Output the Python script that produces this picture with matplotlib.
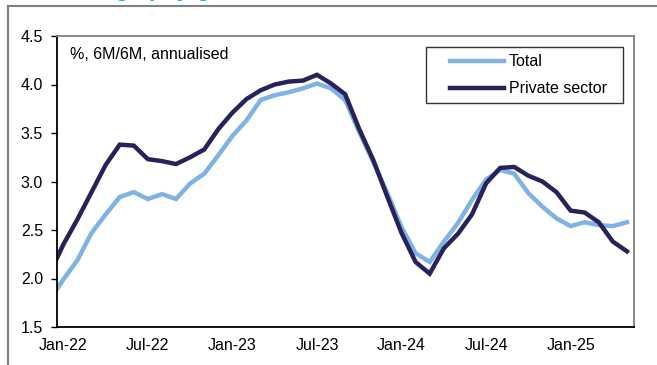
import matplotlib
matplotlib.use("Agg")
import matplotlib.pyplot as plt
from matplotlib.lines import Line2D
from matplotlib.legend_handler import HandlerLine2D

plt.rcParams['font.family'] = ['Liberation Sans', 'DejaVu Sans']

# monthly, Dec-21 .. May-25 (Dec-21 sits just left of the axis and is clipped)
months = ['Dec-21',
          'Jan-22', 'Feb-22', 'Mar-22', 'Apr-22', 'May-22', 'Jun-22', 'Jul-22', 'Aug-22', 'Sep-22', 'Oct-22', 'Nov-22', 'Dec-22',
          'Jan-23', 'Feb-23', 'Mar-23', 'Apr-23', 'May-23', 'Jun-23', 'Jul-23', 'Aug-23', 'Sep-23', 'Oct-23', 'Nov-23', 'Dec-23',
          'Jan-24', 'Feb-24', 'Mar-24', 'Apr-24', 'May-24', 'Jun-24', 'Jul-24', 'Aug-24', 'Sep-24', 'Oct-24', 'Nov-24', 'Dec-24',
          'Jan-25', 'Feb-25', 'Mar-25', 'Apr-25', 'May-25']

total = [1.77,
         1.99, 2.19, 2.47, 2.66, 2.84, 2.89, 2.82, 2.87, 2.82, 2.98, 3.08, 3.27,
         3.47, 3.63, 3.84, 3.89, 3.92, 3.96, 4.01, 3.96, 3.84, 3.51, 3.20, 2.88,
         2.53, 2.26, 2.17, 2.38, 2.57, 2.81, 3.02, 3.12, 3.08, 2.88, 2.74, 2.62,
         2.54, 2.58, 2.55, 2.54, 2.58]

private = [2.04,
           2.35, 2.61, 2.89, 3.17, 3.38, 3.37, 3.23, 3.21, 3.18, 3.25, 3.33, 3.54,
           3.71, 3.85, 3.94, 4.00, 4.03, 4.04, 4.10, 4.01, 3.90, 3.54, 3.22, 2.84,
           2.47, 2.17, 2.05, 2.31, 2.46, 2.66, 2.98, 3.14, 3.15, 3.06, 3.00, 2.89,
           2.70, 2.68, 2.58, 2.38, 2.28]

xticklabels = ['Jan-22', 'Jul-22', 'Jan-23', 'Jul-23', 'Jan-24', 'Jul-24', 'Jan-25']
yticks = [1.5, 2.0, 2.5, 3.0, 3.5, 4.0, 4.5]

light = '#7fb2e5'
dark = '#27235a'
grey = '#808080'


class InsetLine(HandlerLine2D):
    # legend line drawn only over the right part of the handle box
    def create_artists(self, legend, orig_handle, xdescent, ydescent, width, height, fontsize, trans):
        cut = width * 0.24
        line = Line2D([cut, width], [height / 2 - ydescent] * 2)
        self.update_prop(line, orig_handle, legend)
        line.set_transform(trans)
        return [line]


x = list(range(-1, len(months) - 1))

fig = plt.figure(figsize=(6.57, 3.65), dpi=100)
ax = fig.add_axes([57 / 657, 1 - 327 / 365, 577 / 657, 291 / 365])

l1, = ax.plot(x, total, color=light, lw=3.2, label='Total', solid_joinstyle='miter')
l2, = ax.plot(x, private, color=dark, lw=3.2, label='Private sector', solid_joinstyle='miter')

ax.set_xlim(-0.45, 40.5)
ax.set_ylim(1.5, 4.5)
ax.set_yticks(yticks)
ax.set_yticklabels(['%.1f' % v for v in yticks], fontsize=11.5)
ax.set_xticks([months.index(m) - 1 for m in xticklabels])
ax.set_xticklabels(xticklabels, fontsize=11.5)
ax.tick_params(axis='x', length=0, pad=8)
ax.tick_params(axis='y', direction='out', length=4, width=1, pad=6)

ax.spines['left'].set_color('black')
ax.spines['bottom'].set_color('black')
ax.spines['top'].set_color(grey)
ax.spines['right'].set_color(grey)
for s in ax.spines.values():
    s.set_linewidth(1.3)

ax.text(0.022, 0.935, '%, 6M/6M, annualised', transform=ax.transAxes,
        fontsize=11.5, va='center', ha='left')

leg = ax.legend(handles=[l1, l2], labels=['Total', 'Private sector  '], loc='upper right',
                bbox_to_anchor=((623 - 57) / 577, 1 - 11 / 291),
                fontsize=11.5, frameon=True, fancybox=False, handlelength=4.44,
                handletextpad=0.3, borderpad=0.45, labelspacing=0.75, borderaxespad=0,
                handler_map={Line2D: InsetLine()})
leg.get_frame().set_edgecolor('black')
leg.get_frame().set_linewidth(1.0)

# outer panel frame and the cut-off panel title
fig.add_artist(Line2D([8 / 657, 8 / 657], [0, 1 - 6 / 365], transform=fig.transFigure, color=grey, lw=1.5))
fig.add_artist(Line2D([8 / 657, 1], [1 - 6 / 365, 1 - 6 / 365], transform=fig.transFigure, color=grey, lw=1.5))
fig.text(50 / 657, 1 + 4 / 365, 'Average pay growth', color='#1ea7e8', fontsize=17,
         fontweight='bold', va='baseline', ha='left')

fig.savefig('out.png', dpi=100)
